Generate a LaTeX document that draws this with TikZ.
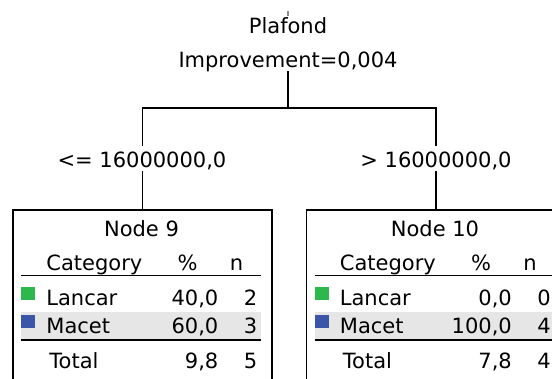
\documentclass[tikz,border=0pt]{standalone}
\usepackage{fontspec}
\setmainfont{DejaVu Sans}
\definecolor{catgreen}{HTML}{2DB84D}
\definecolor{catblue}{HTML}{3B55A8}
\definecolor{rowgrey}{HTML}{E6E6E6}
\tikzset{
  x=1pt, y=-1pt,
  lbl/.style={inner sep=0pt, font=\fontsize{21}{25}\selectfont},
  wire/.style={line width=1.6pt, line cap=rect},
  rule/.style={line width=1.6pt},
  leaf/.style={draw, line width=1.6pt, inner sep=0pt, anchor=north,
               minimum width=259pt, minimum height=200pt},
  swatch/.style={inner sep=0pt, minimum width=14pt, minimum height=13pt, anchor=north west}
}
% one terminal node box: name, centre x, title, Lancar %, n, Macet %, n, Total %, n
\newcommand{\leafbox}[9]{%
  \node[leaf] (#1) at (#2,209) {};
  \fill[rowgrey] ([xshift=9pt]#1.west |- 0,312) rectangle ([xshift=-12pt]#1.east |- 0,339);
  \node[lbl, anchor=base] (#1-title) at (#2-1,236) {#3};
  \node[lbl, anchor=base west] (#1-cat) at ([xshift=34pt]#1.west |- 0,270) {Category};
  \node[lbl, anchor=base] (#1-pct) at (#2+45,270) {\%};
  \node[lbl, anchor=base] (#1-n) at (#2+94,270) {n};
  \draw[rule] ([xshift=9pt]#1.west |- 0,275.5) -- ([xshift=-12pt]#1.east |- 0,275.5);
  \node[swatch, fill=catgreen] (#1-g) at ([xshift=9pt]#1.west |- 0,287) {};
  \node[lbl, anchor=base west] (#1-l) at ([xshift=34pt]#1.west |- 0,305) {Lancar};
  \node[lbl, anchor=base east] (#1-lp) at (#2+76,305) {#4};
  \node[lbl, anchor=base east] (#1-ln) at (#2+115,305) {#5};
  \node[swatch, fill=catblue] (#1-b) at ([xshift=9pt]#1.west |- 0,315) {};
  \node[lbl, anchor=base west] (#1-m) at ([xshift=34pt]#1.west |- 0,333) {Macet};
  \node[lbl, anchor=base east] (#1-mp) at (#2+76,333) {#6};
  \node[lbl, anchor=base east] (#1-mn) at (#2+115,333) {#7};
  \draw[rule] ([xshift=9pt]#1.west |- 0,340) -- ([xshift=-12pt]#1.east |- 0,340);
  \node[lbl, anchor=base west] (#1-t) at ([xshift=37pt]#1.west |- 0,368) {Total};
  \node[lbl, anchor=base east] (#1-tp) at (#2+76,368) {#8};
  \node[lbl, anchor=base east] (#1-tn) at (#2+115,368) {#9};
}
\begin{document}
\begin{tikzpicture}
  \useasboundingbox (0,0) rectangle (552,378);
  \begin{scope}
    \clip (0,0) rectangle (552,378);
    % stub of the link from the parent node
    \draw[line width=1.2pt, black!45] (288,11) -- (288,16);
    % split label
    \node[lbl, anchor=base] (plafond) at (288,33) {Plafond};
    \node[lbl, anchor=base] (improve) at (288,67) {Improvement=0,004};
    % branch conditions
    \node[lbl, anchor=base] (condL) at (142,167) {<= 16000000,0};
    \node[lbl, anchor=base] (condR) at (436,167) {> 16000000,0};
    % terminal nodes
    \leafbox{node9}{142.5}{Node 9}{40,0}{2}{60,0}{3}{9,8}{5}
    \leafbox{node10}{436}{Node 10}{0,0}{0}{100,0}{4}{7,8}{4}
    % connectors
    \coordinate (stem) at (288,72);
    \coordinate (fork) at (288,108);
    \coordinate (forkL) at (142.5,108);
    \coordinate (forkR) at (436,108);
    \coordinate (dropL) at (142.5,145);
    \coordinate (dropR) at (436,145);
    \coordinate (riseL) at (142.5,172);
    \coordinate (riseR) at (436,172);
    \draw[wire] (stem) -- (fork);
    \draw[wire] (dropL) -- (forkL) -- (forkR) -- (dropR);
    \draw[wire] (riseL) -- (node9.north);
    \draw[wire] (riseR) -- (node10.north);
  \end{scope}
\end{tikzpicture}
\end{document}
